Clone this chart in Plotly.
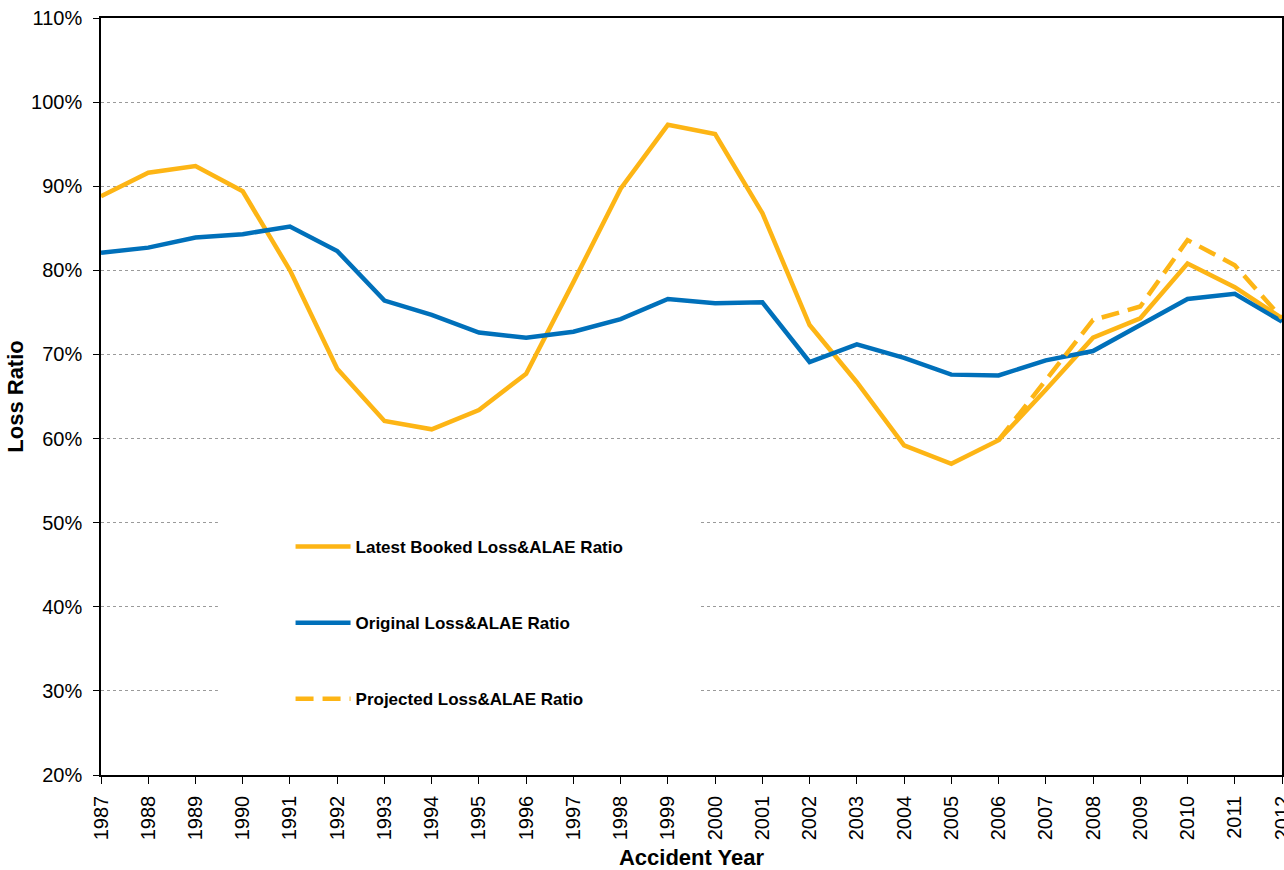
import plotly.graph_objects as go

# Accident years and loss & ALAE ratios (fractions)
years = list(range(1987, 2013))

latest_booked = [0.888, 0.916, 0.924, 0.894, 0.800, 0.683, 0.621, 0.611, 0.634, 0.677,
                 0.786, 0.897, 0.973, 0.962, 0.868, 0.735, 0.667, 0.592, 0.570, 0.598,
                 0.658, 0.720, 0.743, 0.808, 0.780, 0.743]

original = [0.821, 0.827, 0.839, 0.843, 0.852, 0.823, 0.764, 0.747, 0.726, 0.720,
            0.727, 0.742, 0.766, 0.761, 0.762, 0.691, 0.712, 0.696, 0.676, 0.675,
            0.693, 0.704, 0.735, 0.766, 0.772, 0.739]

proj_years = list(range(2006, 2013))
projected = [0.598, 0.670, 0.741, 0.757, 0.836, 0.806, 0.743]

YELLOW = "#FDB515"
BLUE = "#0070BA"
FONT = "Arial, Liberation Sans, sans-serif"

fig = go.Figure()

fig.add_trace(go.Scatter(
    x=years, y=latest_booked, mode="lines", name="Latest Booked Loss&ALAE Ratio",
    line=dict(color=YELLOW, width=4.5), legendgroup="a"))
fig.add_trace(go.Scatter(
    x=years, y=original, mode="lines", name="Original Loss&ALAE Ratio",
    line=dict(color=BLUE, width=4.5), legendgroup="b"))
fig.add_trace(go.Scatter(
    x=proj_years, y=projected, mode="lines", name="Projected Loss&ALAE Ratio",
    line=dict(color=YELLOW, width=4.5, dash="18px,9px"), legendgroup="c"))

# white panel behind the legend, hiding the gridlines there
fig.add_shape(type="rect", xref="paper", yref="paper",
              x0=0.099, x1=0.5055, y0=0.053, y1=0.389,
              fillcolor="white", line=dict(width=0), layer="above")

fig.update_layout(
    width=1284, height=870,
    margin=dict(l=101, r=2, t=18, b=95),
    paper_bgcolor="white", plot_bgcolor="white",
    font=dict(family=FONT, color="black"),
    showlegend=True,
    legend=dict(
        x=0.1605, xanchor="left", y=0.325, yanchor="top",
        bgcolor="rgba(0,0,0,0)", borderwidth=0,
        font=dict(family=FONT, size=17, color="black", weight="bold"),
        tracegroupgap=51, traceorder="grouped", itemwidth=55,
    ),
    xaxis=dict(
        range=[1987, 2012], tickmode="array", tickvals=years,
        ticktext=[str(y) for y in years], tickangle=-90,
        tickfont=dict(size=20, family=FONT), ticks="outside", ticklen=7,
        ticklabelstandoff=4, ticklabeloverflow="allow", automargin=False,
        tickcolor="black", showline=True, linecolor="black", linewidth=1.5,
        mirror=True, showgrid=False, zeroline=False,
        title=dict(text="Accident Year", font=dict(size=22, family=FONT, weight="bold"),
                   standoff=12),
    ),
    yaxis=dict(
        range=[0.2, 1.1], dtick=0.1, tickformat=".0%",
        tickfont=dict(size=20, family=FONT), ticks="outside", ticklen=6,
        ticklabelstandoff=7, automargin=False,
        tickcolor="black", showline=True, linecolor="black", linewidth=1.5,
        mirror=True, showgrid=True, gridcolor="#9A9A9A", gridwidth=1, griddash="dot",
        zeroline=False,
        title=dict(text="Loss Ratio", font=dict(size=22, family=FONT, weight="bold"),
                   standoff=1),
    ),
)

fig.write_html("out.html")
